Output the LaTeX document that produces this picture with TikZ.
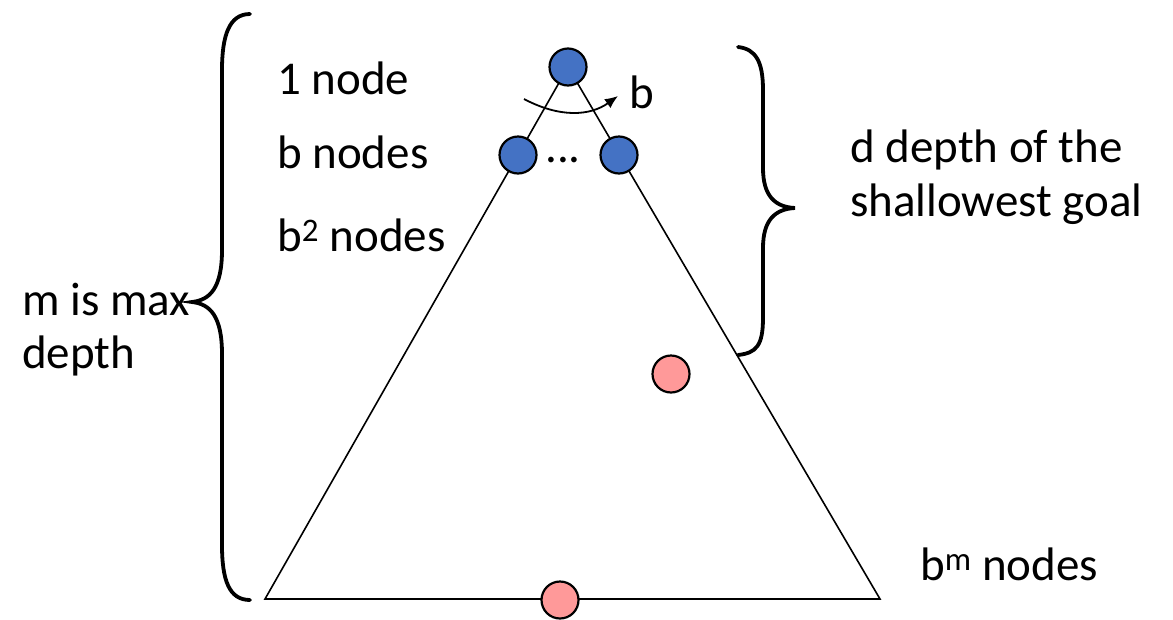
\documentclass[tikz,border=0pt]{standalone}
\usepackage{fontspec}
\setmainfont{Carlito}
\usetikzlibrary{arrows.meta}
\definecolor{nodeblue}{HTML}{4472C4}
\definecolor{nodepink}{HTML}{FF9999}
\begin{document}
\begin{tikzpicture}[x=1pt,y=-1pt,
  treenode/.style={circle,draw=black,line width=2.2pt,minimum size=37pt,inner sep=0pt},
  bluenode/.style={treenode,fill=nodeblue},
  pinknode/.style={treenode,fill=nodepink},
  lbl/.style={anchor=base west,inner sep=0pt,font=\fontsize{47}{54}\selectfont},
  brace/.style={line width=3.8pt,line cap=round},
  edge/.style={line width=1.6pt}]
\useasboundingbox (0,0) rectangle (1173,619);
% triangle
\coordinate (apex) at (568,67);
\coordinate (bl) at (265,599);
\coordinate (br) at (880,599);
\draw[edge,line join=miter] (apex) -- (bl) -- (br) -- cycle;
% nodes
\node[bluenode] (root) at (568,67) {};
\node[bluenode] (c1) at (518,155) {};
\node[bluenode] (c2) at (619,155) {};
\node[pinknode] (g1) at (671,374) {};
\node[pinknode] (g2) at (560,600) {};
\node[lbl,anchor=base] (dots) at (563,162) {...};
% branching arrow
\coordinate (arcs) at (524,99);
\coordinate (arce) at (618,96);
\draw[line width=1.8pt,-{Latex[length=13pt,width=11pt]}] (arcs) .. controls (560,118) and (590,116) .. (arce);
\node[lbl] (blab) at (629,108) {b};
% braces
\draw[brace] (250,14) .. controls (229,14) and (222,36) .. (222,70) -- (222,250)
  .. controls (222,288) and (210,300) .. (192,302)
  .. controls (210,304) and (222,316) .. (222,354) -- (222,545)
  .. controls (222,580) and (229,600) .. (250,600);
\draw[brace] (738,47) .. controls (756,49) and (763,62) .. (763,90) -- (763,168)
  .. controls (763,196) and (775,207) .. (795,208)
  .. controls (775,209) and (763,220) .. (763,248) -- (763,318)
  .. controls (763,346) and (756,353) .. (738,355);
% labels
\node[lbl] (t1) at (277,94) {1 node};
\node[lbl] (t2) at (277,168) {b nodes};
\node[lbl] (t3) at (277,251) {b\textsuperscript{2} nodes};
\node[lbl] (tm1) at (22,315) {m is max};
\node[lbl] (tm2) at (22,368) {depth};
\node[lbl] (td1) at (850,162) {d depth of the};
\node[lbl] (td2) at (850,216) {shallowest goal};
\node[lbl] (tb) at (920,580) {b\textsuperscript{m} nodes};
\end{tikzpicture}
\end{document}
